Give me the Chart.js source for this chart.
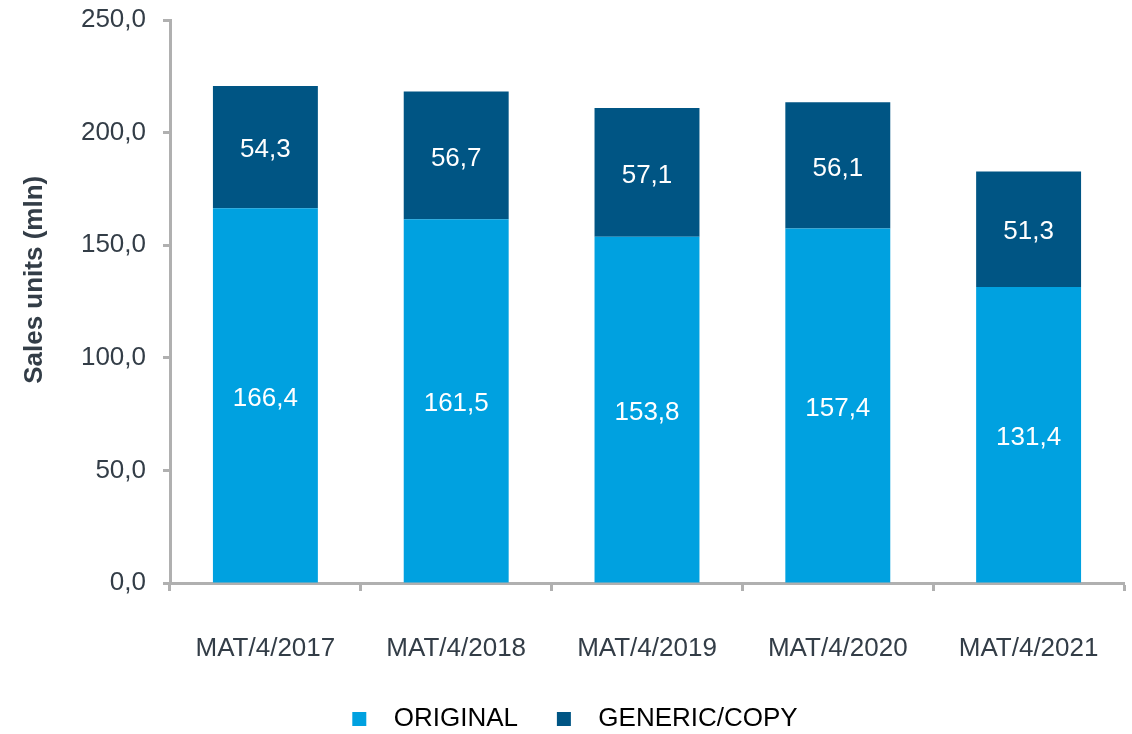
<!DOCTYPE html>
<html>
<head>
<meta charset="utf-8">
<script src="https://cdn.jsdelivr.net/npm/chart.js@4"></script>
<style>
  body { margin: 0; background: #fff; }
  #wrap { width: 1132px; height: 734px; }
</style>
</head>
<body>
<div id="wrap"><canvas id="salesChart" width="1132" height="734"></canvas></div>
<script>
// データ
let categories = ['MAT/4/2017', 'MAT/4/2018', 'MAT/4/2019', 'MAT/4/2020', 'MAT/4/2021'];
let originalValues = [166.4, 161.5, 153.8, 157.4, 131.4];
let genericValues = [54.3, 56.7, 57.1, 56.1, 51.3];
let seriesNames = ['ORIGINAL', 'GENERIC/COPY'];
let yTicks = [0, 50, 100, 150, 200, 250];

let axisGray = '#b0b0b0';
let textColor = '#333d47';
let fontFamily = '"Liberation Sans", Arial, sans-serif';

// 数値をカンマ区切りで表示
function fmt(v) {
  return v.toFixed(1).replace('.', ',');
}

// バーの中央に値を描く
let valueLabels = {
  id: 'valueLabels',
  afterDatasetsDraw(chart) {
    let ctx = chart.ctx;
    ctx.save();
    ctx.fillStyle = '#ffffff';
    ctx.font = '26px ' + fontFamily;
    ctx.textAlign = 'center';
    ctx.textBaseline = 'middle';
    chart.data.datasets.forEach((ds, i) => {
      chart.getDatasetMeta(i).data.forEach((bar, j) => {
        let mid = (bar.y + bar.base) / 2 + 3;
        ctx.fillText(fmt(ds.data[j]), bar.x, mid);
      });
    });
    ctx.restore();
  }
};

// 凡例を少し右へずらす
let legendShift = {
  id: 'legendShift',
  afterLayout(chart) {
    if (chart.legend) {
      chart.legend.left += 13;
      chart.legend.right += 13;
    }
  }
};

let ctx = document.getElementById('salesChart');

let config = {
  type: 'bar',
  data: {
    labels: categories,
    datasets: [{
      label: seriesNames[0],
      data: originalValues,
      backgroundColor: '#00a1e0',
      borderWidth: 0,
      categoryPercentage: 1,
      barPercentage: 0.55
    }, {
      label: seriesNames[1],
      data: genericValues,
      backgroundColor: '#005584',
      borderWidth: 0,
      categoryPercentage: 1,
      barPercentage: 0.55
    }]
  },
  options: {
    responsive: false,
    animation: false,
    layout: {
      padding: { top: 20, right: 8, bottom: -8, left: 0 }
    },
    plugins: {
      legend: {
        position: 'bottom',
        labels: {
          boxWidth: 14,
          boxHeight: 14,
          padding: 10,
          color: textColor,
          font: { size: 26, family: fontFamily },
          // 箱と文字の間隔をスペースで調整
          generateLabels(chart) {
            return chart.data.datasets.map((ds, i) => ({
              text: '  ' + ds.label + (i === 0 ? '    ' : ''),
              fillStyle: ds.backgroundColor,
              strokeStyle: ds.backgroundColor,
              lineWidth: 0,
              datasetIndex: i
            }));
          }
        }
      },
      tooltip: { enabled: false }
    },
    scales: {
      x: {
        stacked: true,
        afterFit(scale) {
          scale.height = 113;
          scale.paddingLeft = 0;
          scale.paddingRight = 0;
        },
        border: { display: true, color: axisGray, width: 3 },
        grid: {
          offset: true,
          drawOnChartArea: false,
          drawTicks: true,
          tickLength: 8,
          tickColor: axisGray,
          tickWidth: 3
        },
        ticks: {
          color: textColor,
          padding: 42,
          font: { size: 26, family: fontFamily }
        }
      },
      y: {
        stacked: true,
        min: 0,
        max: 250,
        afterFit(scale) {
          scale.width = 170;
          scale.paddingTop = 0;
        },
        afterBuildTicks(scale) {
          scale.ticks = yTicks.map(v => ({ value: v }));
        },
        border: { display: true, color: axisGray, width: 3 },
        grid: {
          drawOnChartArea: false,
          drawTicks: true,
          tickLength: 7,
          tickColor: axisGray,
          tickWidth: 3
        },
        ticks: {
          color: textColor,
          padding: 17,
          font: { size: 26, family: fontFamily },
          callback: v => fmt(v)
        },
        title: {
          display: true,
          text: '      Sales units (mln)',
          color: textColor,
          padding: { top: 19, bottom: 0 },
          font: { size: 26, weight: 'bold', family: fontFamily }
        }
      }
    }
  },
  plugins: [valueLabels, legendShift]
};

let salesChart = new Chart(ctx, config);
</script>
</body>
</html>
